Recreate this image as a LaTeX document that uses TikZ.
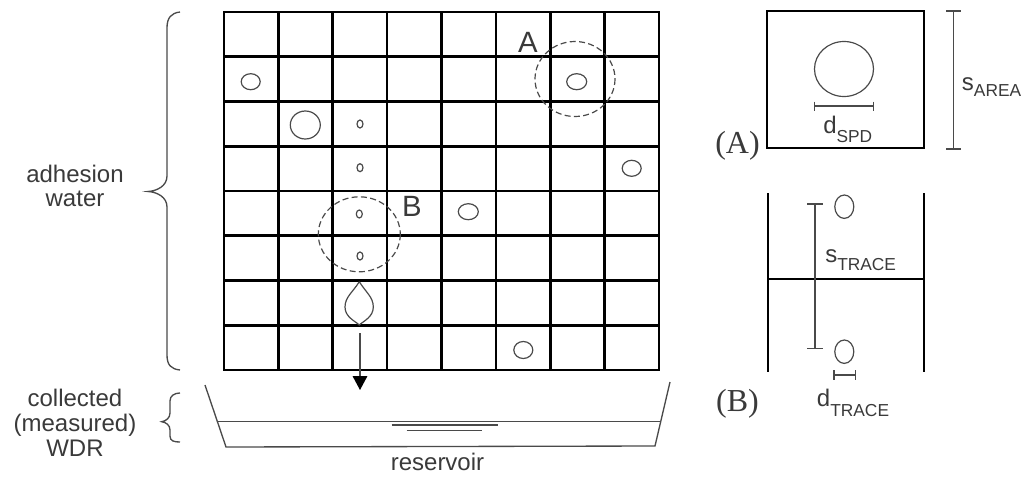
\documentclass[tikz,border=0pt]{standalone}
\usepackage{fontspec}
\setmainfont{Liberation Sans}
\newfontfamily\labserif{Liberation Serif}
\usetikzlibrary{arrows.meta}
\definecolor{ink}{HTML}{3A3A3A}
\definecolor{thin}{HTML}{4A4A4A}
\newcommand\lblsub[2]{{\fontsize{13}{14}\selectfont\raisebox{-#1}{#2}}}
\begin{document}
\begin{tikzpicture}[x=0.75pt,y=-0.75pt,
 gridline/.style={line width=1.9pt,black},
 drop/.style={draw=thin,line width=0.9pt},
 dashcirc/.style={draw=thin,line width=0.9pt,dash pattern=on 4.5pt off 2.5pt},
 boxline/.style={line width=1.6pt,black},
 bar/.style={draw=thin,line width=1pt},
 lbl/.style={inner sep=0pt,text=ink,font=\fontsize{18}{18}\selectfont},
 biglbl/.style={inner sep=0pt,text=ink,font=\fontsize{22}{22}\selectfont},
 serlbl/.style={inner sep=0pt,text=ink,font=\labserif\fontsize{24}{24}\selectfont},
 brace/.style={draw=thin,line width=1pt}]
\useasboundingbox (0,0) rectangle (1026,479);
% grid
\foreach \i in {0,...,8} {
  \draw[gridline] ({224+54.375*\i},12) -- ({224+54.375*\i},370);
  \draw[gridline] (224,{12+44.75*\i}) -- (659,{12+44.75*\i});
}
\draw[gridline] (224,12) rectangle (659,370);
% droplets
\draw[drop] (250.7,81.7) ellipse [x radius=9.5,y radius=8];
\draw[drop] (305.3,125) ellipse [x radius=15,y radius=14];
\draw[drop] (360,124) ellipse [x radius=3,y radius=4];
\draw[drop] (360,167.7) ellipse [x radius=3,y radius=4];
\draw[drop] (359.3,214) ellipse [x radius=3,y radius=4];
\draw[drop] (360,256) ellipse [x radius=3,y radius=4];
\draw[drop] (576.7,81.7) ellipse [x radius=10,y radius=8];
\draw[drop] (631.7,168.3) ellipse [x radius=9.5,y radius=8];
\draw[drop] (468.3,211.7) ellipse [x radius=10,y radius=8];
\draw[drop] (523.3,350) ellipse [x radius=9.5,y radius=8.5];
% dashed circles
\draw[dashcirc] (575,79) ellipse [x radius=40,y radius=37.5];
\draw[dashcirc] (359.3,234.3) ellipse [x radius=41,y radius=37.5];
\node[biglbl,anchor=base] (labA) at (528,52.7) {A};
\node[biglbl,anchor=base] (labB) at (412,216.7) {B};
% flowing drop
\draw[drop] (359.3,281.7) .. controls (353,292) and (345,297) .. (345,307)
  .. controls (345,317) and (355,321) .. (359.3,325)
  .. controls (363.6,321) and (373.3,317) .. (373.3,307)
  .. controls (373.3,297) and (365.6,292) .. (359.3,281.7);
% arrow
\coordinate (arrS) at (360,333);
\coordinate (arrE) at (360,390);
\draw[draw=thin,line width=0.9pt,-{Triangle[length=10.5pt,width=11pt,color=black]}] (arrS) -- (arrE);
% reservoir
\draw[bar] (205,385) -- (226,447) -- (655,446) -- (670,382);
\draw[bar] (217.4,421.7) -- (660.7,421.7);
\draw[bar] (391.7,425) -- (498.3,425);
\draw[bar] (406.7,430.7) -- (481.7,430.7);
\node[lbl,anchor=base] (res) at (437.5,470) {reservoir};
% braces
\draw[brace] (180,12) .. controls (171,13) and (167,18) .. (167,28) -- (167,176)
  .. controls (167,186) and (157,191) .. (148,191.5)
  .. controls (157,192) and (167,197) .. (167,207) -- (167,355)
  .. controls (167,365) and (171,369) .. (180,370);
\draw[brace] (180,393) .. controls (174,393) and (170,396) .. (170,401) -- (170,413)
  .. controls (170,418) and (166,421) .. (161.7,421.7)
  .. controls (166,422.4) and (170,425) .. (170,430) -- (170,436)
  .. controls (170,441) and (174,442) .. (180,442);
\node[lbl,anchor=base,align=center,font=\fontsize{18}{17.5}\selectfont] (adh) at (75,206) {adhesion\\water};
\node[lbl,anchor=base,align=center,font=\fontsize{18}{18.6}\selectfont] (coll) at (75,456) {collected\\(measured)\\WDR};
% part A
\draw[boxline] (766.7,11) rectangle (924,147.7);
\draw[drop] (844,69) ellipse [x radius=29.5,y radius=27.5];
\draw[bar] (814.3,106) -- (873.3,106);
\draw[bar] (814.3,101.5) -- (814.3,110.5);
\draw[bar] (873.3,101.5) -- (873.3,110.5);
\draw[bar] (953.3,11) -- (953.3,149);
\draw[bar] (946,11) -- (960.5,11);
\draw[bar] (946,149) -- (960.5,149);
\node[lbl,anchor=base west] (dspd) at (823,133.3) {d\lblsub{7pt}{SPD}};
\node[lbl,anchor=base west] (sarea) at (961.7,90.7) {s\lblsub{4.5pt}{AREA}};
\node[serlbl,anchor=base] (la) at (737.5,153) {(A)};
% part B
\draw[boxline] (768.3,193.3) -- (768.3,371.7);
\draw[boxline] (924,193.3) -- (924,371.7);
\draw[boxline] (768.3,279) -- (924,279);
\draw[bar] (815,204) -- (815,348.3);
\draw[bar] (807,204) -- (823,204);
\draw[bar] (807,348.3) -- (823,348.3);
\draw[drop] (844.3,206.7) ellipse [x radius=9.5,y radius=11.7];
\draw[drop] (844.3,351.7) ellipse [x radius=9.5,y radius=11.7];
\draw[bar] (834,375) -- (855.7,375);
\draw[bar] (834,370) -- (834,380);
\draw[bar] (855.7,370) -- (855.7,380);
\node[lbl,anchor=base west] (strace) at (825,262.7) {s\lblsub{6pt}{TRACE}};
\node[lbl,anchor=base west] (dtrace) at (816.7,406) {d\lblsub{7.5pt}{TRACE}};
\node[serlbl,anchor=base] (lb) at (737.5,411.7) {(B)};
\end{tikzpicture}
\end{document}
